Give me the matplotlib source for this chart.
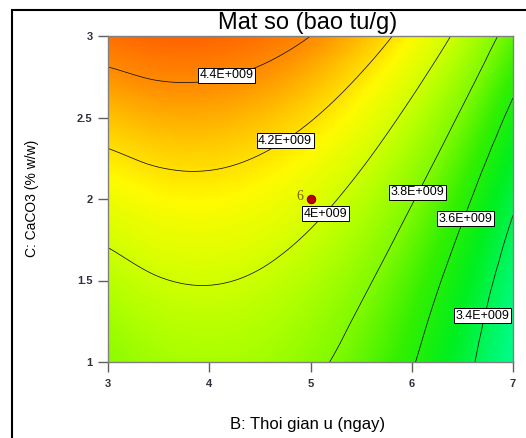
import numpy as np
import matplotlib
matplotlib.use('Agg')
from matplotlib import pyplot as plt
from matplotlib import tri
from matplotlib.colors import LinearSegmentedColormap, Normalize
from matplotlib.patches import Rectangle

plt.rcParams['font.family'] = ['Liberation Sans', 'DejaVu Sans']

# factor levels on the plot grid
thoi_gian = np.array([3.0, 3.5, 4.0, 4.5, 5.0, 5.5, 6.0, 6.5, 7.0])   # B: Thoi gian u (ngay)
caco3 = np.array([1.0, 1.25, 1.5, 1.75, 2.0, 2.25, 2.5, 2.75, 3.0])    # C: CaCO3 (% w/w)

# Mat so (x 1E+009 bao tu/g), rows = caco3, cols = thoi_gian
mat_so = np.array([
    [3.830, 3.885, 3.903, 3.885, 3.830, 3.739, 3.611, 3.447, 3.246],
    [3.883, 3.935, 3.951, 3.930, 3.873, 3.779, 3.649, 3.482, 3.278],
    [3.945, 3.994, 4.007, 3.984, 3.924, 3.827, 3.694, 3.525, 3.319],
    [4.014, 4.061, 4.072, 4.045, 3.983, 3.884, 3.748, 3.576, 3.367],
    [4.092, 4.136, 4.144, 4.115, 4.050, 3.948, 3.810, 3.635, 3.424],
    [4.178, 4.219, 4.225, 4.193, 4.125, 4.021, 3.880, 3.703, 3.489],
    [4.272, 4.311, 4.313, 4.279, 4.209, 4.102, 3.958, 3.778, 3.562],
    [4.374, 4.410, 4.410, 4.373, 4.300, 4.191, 4.045, 3.862, 3.643],
    [4.484, 4.518, 4.515, 4.476, 4.400, 4.288, 4.139, 3.954, 3.732],
])

# contour levels and their labels
levels = [3.4, 3.6, 3.8, 4.0, 4.2, 4.4]
level_labels = ['3.4E+009', '3.6E+009', '3.8E+009', '4E+009', '4.2E+009', '4.4E+009']

# design point (centre point, 6 replicates)
design_B = [5.0]
design_C = [2.0]
design_n = [6]

# colour ramp (value, colour) similar to Design-Expert
ramp_vals = [3.22, 3.35, 3.50, 3.65, 3.80, 3.92, 4.02, 4.14, 4.26, 4.38, 4.55]
ramp_cols = ['#00ff96', '#00f764', '#00ef1e', '#32f000', '#82fa00', '#afff00',
             '#d7ff00', '#fffa00', '#ffc800', '#ff9100', '#ff5a00']
vmin, vmax = ramp_vals[0], ramp_vals[-1]
cmap = LinearSegmentedColormap.from_list(
    'de', [((v - vmin) / (vmax - vmin), c) for v, c in zip(ramp_vals, ramp_cols)])

W, H = 526, 438
fig = plt.figure(figsize=(W / 100, H / 100), dpi=100)
ax = fig.add_axes([108 / W, 1 - 362 / H, 405 / W, 326 / H])

# smooth the grid for drawing (library refiner, cubic)
BB, CC = np.meshgrid(thoi_gian, caco3)
triang = tri.Triangulation(BB.ravel(), CC.ravel())
interp = tri.CubicTriInterpolator(triang, mat_so.ravel(), kind='geom')
tri_fine, z_fine = tri.UniformTriRefiner(triang).refine_field(
    mat_so.ravel(), triinterpolator=interp, subdiv=4)

ax.tripcolor(tri_fine, z_fine, shading='gouraud', cmap=cmap,
             norm=Normalize(vmin=vmin, vmax=vmax), rasterized=True)
cs = ax.tricontour(tri_fine, z_fine, levels=levels, colors='#101010', linewidths=0.55)

# contour labels (horizontal, boxed)
label_pos = [(6.70, 1.285), (6.53, 1.88), (6.06, 2.04), (5.15, 1.91), (4.75, 2.356), (4.17, 2.76)]
for txt, (bx, cy) in zip(level_labels, label_pos):
    ax.text(bx, cy, txt, fontsize=9, ha='center', va='center', zorder=5,
            bbox=dict(boxstyle='square,pad=0.12', fc='white', ec='black', lw=0.7))

# design point
ax.plot(design_B, design_C, 'o', ms=6, mfc='#c00000', mec='#7a0000', mew=0.8, zorder=6)
for b, c, n in zip(design_B, design_C, design_n):
    ax.annotate(str(n), (b, c), xytext=(-5.5, 1.5), textcoords='offset points',
                ha='right', va='center', fontsize=10, color='#786400',
                family=['Liberation Serif', 'DejaVu Serif'])

ax.set_xlim(3, 7)
ax.set_ylim(1, 3)
ax.set_xticks([3, 4, 5, 6, 7])
ax.set_yticks([1, 1.5, 2, 2.5, 3])
ax.set_yticklabels(['1', '1.5', '2', '2.5', '3'])
for s in ax.spines.values():
    s.set_color('#808080')
    s.set_linewidth(1.0)
ax.tick_params(direction='out', length=7, width=1, color='#606060',
               labelsize=8, labelcolor='#303040')
ax.tick_params(axis='x', pad=5)
ax.tick_params(axis='y', pad=4)
for t in ax.get_xticklabels() + ax.get_yticklabels():
    t.set_fontweight('bold')

# titles
fig.text(307.5 / W, 1 - 29 / H, 'Mat so (bao tu/g)', ha='center', va='baseline', fontsize=17)
fig.text(308 / W, 1 - 424 / H, 'B: Thoi gian u (ngay)', ha='center', va='center', fontsize=12)
fig.text(32 / W, 1 - 198 / H, 'C: CaCO3 (% w/w)', ha='center', va='center', fontsize=10,
         rotation=90)

# outer frame (top and left edge only visible)
fig.add_artist(Rectangle((12 / W, -0.1), 1.2, 1.1 - 10 / H, transform=fig.transFigure,
                         fill=False, ec='black', lw=1.5, clip_on=False))

fig.savefig('out.png', dpi=100)
